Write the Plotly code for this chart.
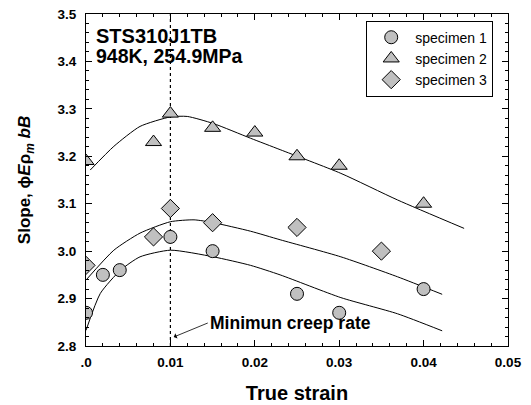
import plotly.graph_objects as go

# ---- data ----
s1_x = [0.0, 0.002, 0.004, 0.010, 0.015, 0.025, 0.030, 0.040]
s1_y = [2.87, 2.95, 2.96, 3.03, 3.00, 2.91, 2.87, 2.92]

s2_x = [0.0, 0.008, 0.010, 0.015, 0.020, 0.025, 0.030, 0.040]
s2_y = [3.19, 3.23, 3.29, 3.26, 3.25, 3.20, 3.18, 3.10]

s3_x = [0.0, 0.008, 0.010, 0.015, 0.025, 0.035]
s3_y = [2.97, 3.03, 3.09, 3.06, 3.05, 3.00]

# fitted curves (sampled along the drawn lines)
f1_x = [0.0, 0.0017, 0.0041, 0.0064, 0.010, 0.0151, 0.0195, 0.0230, 0.0302, 0.0369, 0.0422]
f1_y = [2.833, 2.911, 2.960, 2.988, 3.002, 2.988, 2.970, 2.950, 2.902, 2.868, 2.832]

f2_x = [0.0005, 0.0033, 0.0064, 0.010, 0.012, 0.0151, 0.0195, 0.0230, 0.0302, 0.0369, 0.0448]
f2_y = [3.171, 3.221, 3.263, 3.283, 3.284, 3.269, 3.238, 3.214, 3.164, 3.108, 3.048]

f3_x = [0.0, 0.0033, 0.0064, 0.010, 0.0128, 0.0151, 0.0195, 0.0230, 0.0302, 0.0369, 0.0422]
f3_y = [2.939, 3.002, 3.038, 3.062, 3.066, 3.060, 3.042, 3.024, 2.988, 2.946, 2.909]

min_rate_x = [0.01, 0.01]
min_rate_y = [2.8, 3.5]

x_ticks = [0.0, 0.01, 0.02, 0.03, 0.04, 0.05]
x_ticktext = [".0", "0.01", "0.02", "0.03", "0.04", "0.05"]
y_ticks = [2.8, 2.9, 3.0, 3.1, 3.2, 3.3, 3.4, 3.5]
y_ticktext = ["2.8", "2.9", "3.0", "3.1", "3.2", "3.3", "3.4", "3.5"]

FONT = "Liberation Sans, Arial, sans-serif"
FILL = "#c0c0c0"

fig = go.Figure()

for fx, fy in [(f1_x, f1_y), (f2_x, f2_y), (f3_x, f3_y)]:
    fig.add_trace(go.Scatter(x=fx, y=fy, mode="lines",
                             line=dict(color="black", width=1, shape="spline", smoothing=0.6),
                             showlegend=False, hoverinfo="skip"))

fig.add_trace(go.Scatter(x=min_rate_x, y=min_rate_y, mode="lines",
                         line=dict(color="black", width=1.2, dash="dot"), showlegend=False))

mk_line = dict(color="black", width=1)
fig.add_trace(go.Scatter(x=s1_x, y=s1_y, mode="markers", name="specimen 1",
                         marker=dict(symbol="circle", size=13, color=FILL, line=mk_line)))
fig.add_trace(go.Scatter(x=s2_x, y=s2_y, mode="markers", name="specimen 2",
                         marker=dict(symbol="triangle-up", size=14, color=FILL, line=mk_line)))
fig.add_trace(go.Scatter(x=s3_x, y=s3_y, mode="markers", name="specimen 3",
                         marker=dict(symbol="diamond", size=14, color=FILL, line=mk_line)))

fig.add_annotation(text="STS310J1TB", xref="paper", yref="paper",
                   x=0.02, y=0.935, xanchor="left", yanchor="middle", showarrow=False,
                   font=dict(family=FONT, size=20, color="black", weight="bold"))
fig.add_annotation(text="948K, 254.9MPa", xref="paper", yref="paper",
                   x=0.02, y=0.872, xanchor="left", yanchor="middle", showarrow=False,
                   font=dict(family=FONT, size=19.5, color="black", weight="bold"))

fig.add_annotation(x=0.0104, y=2.819, ax=34, ay=-14, xref="x", yref="y", axref="pixel", ayref="pixel",
                   text="Minimun creep rate", xanchor="left", yanchor="middle",
                   showarrow=True, arrowhead=1, arrowsize=1.2, arrowwidth=0.8, arrowcolor="black",
                   font=dict(family=FONT, size=17.5, color="black", weight="bold"))

axis_common = dict(showgrid=False, zeroline=False, showline=True, linecolor="black", linewidth=1,
                   mirror="ticks", ticks="inside", ticklen=6, tickcolor="black", tickwidth=1,
                   automargin=False, ticklabeloverflow="allow",
                   tickfont=dict(family=FONT, size=13.5, color="black", weight="bold"))

fig.update_xaxes(range=[0, 0.05], tickvals=x_ticks, ticktext=x_ticktext, ticklabelstandoff=4,
                 minor=dict(ticks="inside", dtick=0.002, ticklen=3, tickcolor="black"),
                 title=dict(text="True strain", font=dict(family=FONT, size=20, color="black", weight="bold"),
                            standoff=16),
                 **axis_common)
fig.update_yaxes(range=[2.8, 3.5], tickvals=y_ticks, ticktext=y_ticktext, ticklabelstandoff=6,
                 minor=dict(ticks="inside", dtick=0.02, ticklen=3, tickcolor="black"),
                 title=dict(text="Slope, \u03d5<i>E</i>\u03c1<sub><i>m</i></sub> <i>bB</i>",
                            font=dict(family=FONT, size=17, color="black", weight="bold"), standoff=22),
                 **axis_common)

# the page adds an 8px body margin, so the figure margins are reduced by 8px on the left/top
fig.update_layout(width=531, height=405, margin=dict(l=78, r=31, t=6, b=67),
                  plot_bgcolor="white", paper_bgcolor="white",
                  legend=dict(x=0.664, y=0.98, xanchor="left", yanchor="top",
                              bordercolor="black", borderwidth=1, bgcolor="white",
                              font=dict(family=FONT, size=14, color="black"), tracegroupgap=0,
                              itemwidth=38))

fig.write_html("out.html")
